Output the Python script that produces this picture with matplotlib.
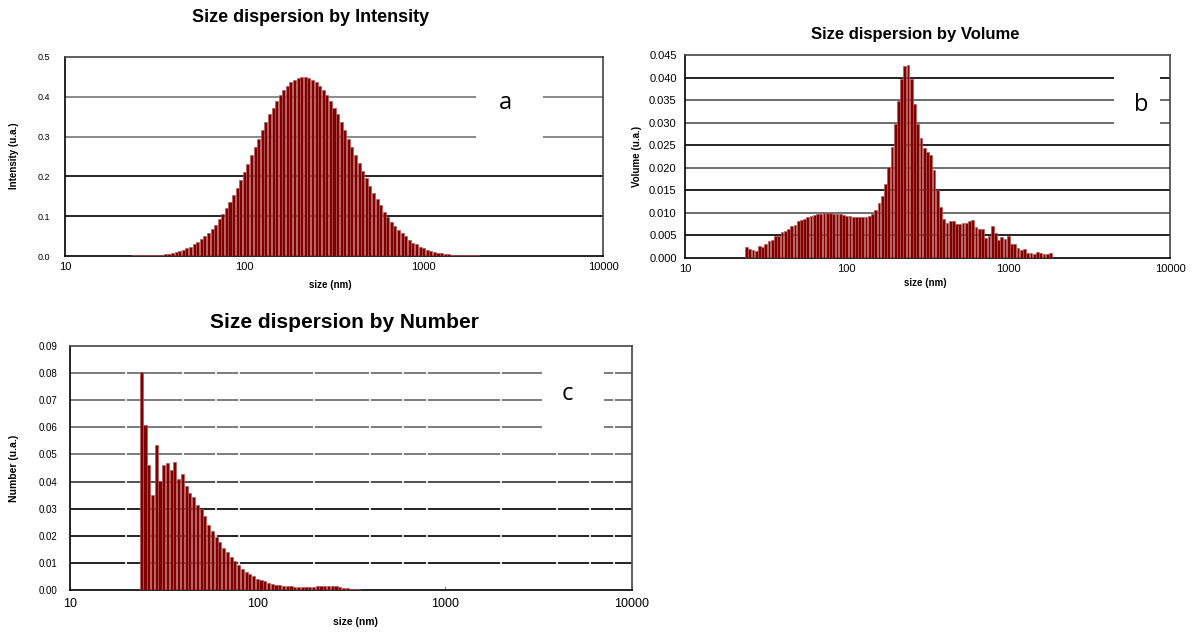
import numpy as np
import matplotlib
matplotlib.use('Agg')
import matplotlib.pyplot as plt
from matplotlib.patches import Rectangle

plt.rcParams['font.family'] = ['Liberation Sans', 'DejaVu Sans']

# instrument bins: 50 per decade, starting at ~24 nm
sizes = 10 ** (1.38 + 0.02 * np.arange(97))

intensity = [0.002, 0.002, 0.002, 0.002, 0.002, 0.002, 0.003, 0.003, 0.003,
             0.004, 0.006, 0.008, 0.010, 0.013, 0.016, 0.019, 0.023, 0.029, 0.036,
             0.042, 0.050, 0.059, 0.069, 0.079, 0.092, 0.105, 0.120, 0.136, 0.154,
             0.172, 0.192, 0.211, 0.230, 0.253, 0.274, 0.295, 0.316, 0.336, 0.356,
             0.372, 0.389, 0.404, 0.417, 0.428, 0.437, 0.443, 0.448, 0.449,
             0.449, 0.447, 0.443, 0.437, 0.428, 0.417, 0.404, 0.389, 0.372, 0.356,
             0.336, 0.316, 0.295, 0.274, 0.254, 0.233, 0.213, 0.195, 0.176, 0.159,
             0.142, 0.128, 0.111, 0.099, 0.085, 0.075, 0.065, 0.057, 0.049, 0.040,
             0.033, 0.029, 0.023, 0.019, 0.016, 0.013, 0.011, 0.008, 0.007, 0.005,
             0.004, 0.003, 0.003,
             0.002, 0.002, 0.002, 0.002, 0.002, 0.002]

volume = [0.0024, 0.0020, 0.0018, 0.0016, 0.0027, 0.0024, 0.0032, 0.0037, 0.0040,
          0.0048, 0.0048, 0.0057, 0.0060, 0.0064, 0.0070, 0.0074, 0.0081, 0.0084,
          0.0087, 0.0091, 0.0093, 0.0095, 0.0097, 0.0098, 0.0099, 0.0099, 0.0099,
          0.0098, 0.0098, 0.0097, 0.0095, 0.0092, 0.0092, 0.0090, 0.0090, 0.0090,
          0.0090,
          0.0091, 0.0094, 0.0098, 0.0107, 0.0121, 0.0138, 0.0165, 0.0201, 0.0246,
          0.0297, 0.0349, 0.0396, 0.0426, 0.0428, 0.0396, 0.0342, 0.0296, 0.0265,
          0.0243, 0.0235, 0.0228, 0.0194, 0.0151, 0.0113, 0.0086, 0.0077, 0.0081,
          0.0083, 0.0076, 0.0075, 0.0077, 0.0078, 0.0082, 0.0085, 0.0068, 0.0064,
          0.0064, 0.0044, 0.0048, 0.0070, 0.0055, 0.0041, 0.0047, 0.0043, 0.0049,
          0.0030, 0.0030, 0.0023, 0.0017, 0.0021, 0.0012, 0.0012, 0.0009,
          0.0014, 0.0010, 0.0009, 0.0008, 0.0012]

number = [0.0803, 0.0609, 0.0462, 0.0351, 0.0533, 0.0403, 0.0461, 0.0467, 0.0444,
          0.0472, 0.0411, 0.0428, 0.0385, 0.0359, 0.0342, 0.0314, 0.0299, 0.0272,
          0.0241, 0.0218, 0.0194, 0.0176, 0.0155, 0.0139, 0.0121, 0.0107, 0.0092,
          0.0077, 0.0068, 0.0059, 0.0050, 0.0042, 0.0037, 0.0032, 0.0027, 0.0022,
          0.0018, 0.0017, 0.0015,
          0.0014, 0.0013, 0.0012, 0.0012, 0.0011, 0.0011, 0.0011, 0.0012, 0.0014,
          0.0016, 0.0016, 0.0016, 0.0015, 0.0013, 0.0011, 0.0008, 0.0006, 0.0004,
          0.0003, 0.0002, 0.0001, 0.0001]

xticks = [10, 100, 1000, 10000]
xtick_labels = ['10', '100', '1000', '10000']

bar_color = '#800000'
edge_color = '#b45a5a'


def draw_bars(ax, vals):
    s = sizes[:len(vals)]
    left = s * 10 ** -0.0085
    width = s * (10 ** 0.0085 - 10 ** -0.0085)
    ax.bar(left, vals, width=width, align='edge', color=bar_color,
           edgecolor=edge_color, linewidth=0.5, zorder=3)


def style_axes(ax, ymax, yticks, fmt, grid_colors, ytick_size, xtick_size, ypad):
    ax.set_xscale('log')
    ax.set_xlim(10, 10000)
    ax.set_ylim(0, ymax)
    ax.set_xticks(xticks)
    ax.set_xticklabels(xtick_labels, fontsize=xtick_size)
    ax.xaxis.set_minor_locator(matplotlib.ticker.NullLocator())
    ax.set_yticks(yticks)
    ax.set_yticklabels([fmt.format(v) for v in yticks], fontsize=ytick_size)
    ax.tick_params(length=0, pad=4)
    ax.tick_params(axis='y', pad=ypad)
    for y, c in zip(yticks[1:-1], grid_colors):
        ax.axhline(y, color=c, linewidth=1.2, zorder=1)
    for side in ['left', 'bottom']:
        ax.spines[side].set_color('black')
        ax.spines[side].set_linewidth(1.2)
    for side in ['top', 'right']:
        ax.spines[side].set_color('#444444')
        ax.spines[side].set_linewidth(1.2)


def letter_box(ax, x0, x1, y0, y1, letter, lx, ly):
    ax.add_patch(Rectangle((x0, y0), x1 - x0, y1 - y0, transform=ax.transAxes,
                           facecolor='white', edgecolor='none', zorder=2))
    ax.text(lx, ly, letter, transform=ax.transAxes, ha='center', va='center',
            fontsize=17, family=['Open Sans', 'DejaVu Sans'], zorder=4)


fig = plt.figure(figsize=(12, 6.35), dpi=100)

# a: intensity
ax1 = fig.add_axes([65 / 1200, 1 - 256 / 635, 538 / 1200, 199 / 635])
draw_bars(ax1, intensity)
style_axes(ax1, 0.5, [0.0, 0.1, 0.2, 0.3, 0.4, 0.5], '{:.1f}',
           ['black', 'black', '#777777', '#777777'], 6.5, 8, 11)
letter_box(ax1, 0.764, 0.888, 0.52, 0.9, 'a', 0.818, 0.77)
fig.text(311 / 1200, 1 - 17 / 635, 'Size dispersion by Intensity',
         ha='center', va='center', fontsize=13, fontweight='bold')
fig.text(330 / 1200, 1 - 285 / 635, 'size (nm)', ha='center', va='center',
         fontsize=7, fontweight='bold')
fig.text(14 / 1200, 1 - 156 / 635, 'Intensity (u.a.)', ha='center', va='center',
         rotation=90, fontsize=7, fontweight='bold')

# b: volume
ax2 = fig.add_axes([685 / 1200, 1 - 258 / 635, 485 / 1200, 203 / 635])
draw_bars(ax2, volume)
style_axes(ax2, 0.045, [0.0, 0.005, 0.010, 0.015, 0.020, 0.025, 0.030, 0.035,
                        0.040, 0.045], '{:.3f}',
           ['black', '#555555', 'black', '#555555', 'black', '#555555',
            '#555555', 'black'], 8, 8, 6)
letter_box(ax2, 0.885, 0.98, 0.62, 0.92, 'b', 0.94, 0.755)
fig.text(915 / 1200, 1 - 35 / 635, 'Size dispersion by Volume',
         ha='center', va='center', fontsize=12, fontweight='bold')
fig.text(925 / 1200, 1 - 283 / 635, 'size (nm)', ha='center', va='center',
         fontsize=7, fontweight='bold')
fig.text(637 / 1200, 1 - 156 / 635, 'Volume (u.a.)', ha='center', va='center',
         rotation=90, fontsize=7, fontweight='bold')

# c: number
ax3 = fig.add_axes([70 / 1200, 1 - 590 / 635, 562 / 1200, 244 / 635])
for xv in [20, 40, 60, 80, 200, 400, 600, 800, 2000, 4000, 6000, 8000]:
    ax3.axvline(xv, color='white', linewidth=1.2, zorder=1.5)
draw_bars(ax3, number)
style_axes(ax3, 0.09, [0.0, 0.01, 0.02, 0.03, 0.04, 0.05, 0.06, 0.07, 0.08,
                       0.09], '{:.2f}',
           ['black', 'black', 'black', '#333333', '#666666', '#666666',
            '#666666', '#666666'], 7, 9, 9)
ax3.tick_params(axis='x', direction='in', length=3, color='#888888', pad=6)
letter_box(ax3, 0.84, 0.95, 0.6, 0.93, 'c', 0.885, 0.805)
fig.text(344 / 1200, 1 - 323 / 635, 'Size dispersion by Number',
         ha='center', va='center', fontsize=15, fontweight='bold')
fig.text(355 / 1200, 1 - 622 / 635, 'size (nm)', ha='center', va='center',
         fontsize=7.5, fontweight='bold')
fig.text(14 / 1200, 1 - 468 / 635, 'Number (u.a.)', ha='center', va='center',
         rotation=90, fontsize=7.5, fontweight='bold')

fig.savefig('out.png', dpi=100)
